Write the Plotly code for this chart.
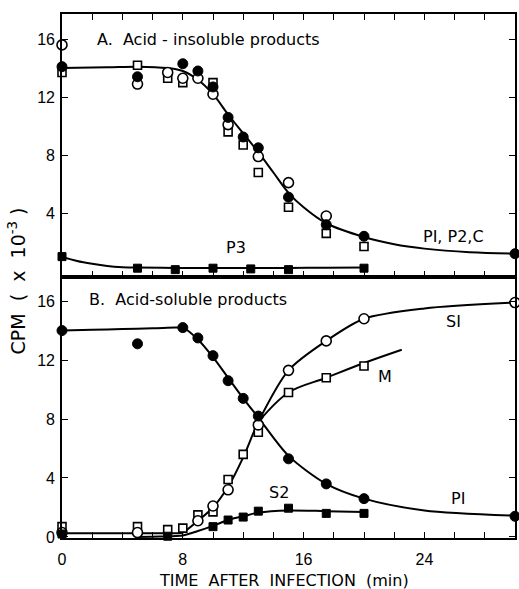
import plotly.graph_objects as go
from plotly.subplots import make_subplots

FONT = "Liberation Sans"
TFONT = "DejaVu Sans"

# ---------------- Panel A: acid-insoluble products ----------------
a_filled_t = [0, 5, 8, 9, 10, 11, 12, 13, 15, 17.5, 20, 30]
a_filled_v = [14.1, 13.4, 14.3, 13.8, 12.7, 10.6, 9.25, 8.5, 5.1, 3.2, 2.4, 1.2]
a_opencirc_t = [0, 5, 7, 8, 9, 10, 11, 13, 15, 17.5]
a_opencirc_v = [15.6, 12.9, 13.7, 13.3, 13.3, 12.2, 10.1, 7.9, 6.1, 3.8]
a_opensq_t = [0, 5, 7, 8, 10, 11, 12, 13, 15, 17.5, 20]
a_opensq_v = [13.7, 14.2, 13.3, 13.0, 13.0, 9.6, 8.7, 6.8, 4.4, 2.6, 1.7]
a_curve_t = [0, 3, 5, 7, 8, 9, 10, 11, 12, 13, 14, 15, 16, 17.5, 20, 22, 24, 27, 30]
a_curve_v = [14.0, 14.05, 14.1, 14.0, 13.8, 13.2, 12.2, 10.8, 9.5, 8.2, 6.8, 5.4, 4.4, 3.3, 2.35, 1.85, 1.55, 1.3, 1.2]
p3_t = [0, 5, 7.5, 10, 12.5, 15, 20]
p3_v = [1.0, 0.2, 0.1, 0.2, 0.15, 0.1, 0.2]
p3_curve_t = [0, 1, 2, 3, 4, 5, 7.5, 10, 12.5, 15, 17.5, 20]
p3_curve_v = [1.0, 0.7, 0.5, 0.35, 0.27, 0.24, 0.22, 0.22, 0.22, 0.22, 0.23, 0.24]

# ---------------- Panel B: acid-soluble products ----------------
p1_t = [0, 5, 8, 9, 10, 11, 12, 13, 15, 17.5, 20, 30]
p1_v = [14.0, 13.1, 14.2, 13.5, 12.3, 10.6, 9.4, 8.2, 5.3, 3.6, 2.6, 1.4]
p1_curve_t = [0, 2, 4, 6, 7.5, 8, 9, 10, 11, 12, 13, 15, 17.5, 20, 24, 30]
p1_curve_v = [14.0, 14.05, 14.1, 14.15, 14.2, 14.2, 13.4, 12.2, 10.8, 9.4, 8.1, 5.5, 3.6, 2.6, 1.8, 1.45]
s1_t = [0, 5, 9, 10, 11, 13, 15, 17.5, 20, 30]
s1_v = [0.3, 0.3, 1.1, 2.1, 3.2, 7.6, 11.3, 13.3, 14.8, 15.9]
s1_curve_t = [0, 2, 4, 6, 7.5, 8, 9, 10, 11, 12, 13, 15, 17.5, 20, 24, 30]
s1_curve_v = [0.25, 0.25, 0.25, 0.25, 0.25, 0.3, 1.1, 2.0, 3.4, 5.4, 7.8, 11.3, 13.3, 14.8, 15.5, 15.9]
m_t = [0, 5, 7, 8, 9, 10, 11, 12, 13, 15, 17.5, 20]
m_v = [0.7, 0.7, 0.5, 0.6, 1.5, 1.7, 3.9, 5.6, 7.1, 9.8, 10.8, 11.6]
m_curve_t = [13, 15, 17.5, 20, 22.5]
m_curve_v = [7.8, 9.8, 10.8, 11.8, 12.7]
s2_t = [0, 7, 10, 11, 12, 13, 15, 17.5, 20]
s2_v = [0.2, 0.05, 0.7, 1.15, 1.35, 1.75, 1.95, 1.6, 1.6]
s2_curve_t = [5, 6.5, 8, 9, 10, 11, 12, 13, 15, 17.5, 20]
s2_curve_v = [0.0, 0.03, 0.1, 0.4, 0.75, 1.15, 1.4, 1.65, 1.8, 1.75, 1.7]

x_major = [0, 8, 16, 24]
y_top_ticks = [4, 8, 12, 16]
y_bottom_ticks = [0, 4, 8, 12, 16]

fig = make_subplots(rows=2, cols=1, shared_xaxes=True, vertical_spacing=0)

LINE = dict(color="black", width=2)


def line(t, v, row, smooth=1.0):
    fig.add_trace(go.Scatter(x=t, y=v, mode="lines", line=dict(LINE, shape="spline", smoothing=smooth),
                             hoverinfo="skip", showlegend=False, cliponaxis=False), row=row, col=1)


def marks(t, v, row, kind):
    if kind == "fc":
        m = dict(symbol="circle", size=10, color="black", line=dict(color="black", width=1))
    elif kind == "oc":
        m = dict(symbol="circle", size=10, color="white", line=dict(color="black", width=1.6))
    elif kind == "os":
        m = dict(symbol="square", size=8, color="white", line=dict(color="black", width=1.6))
    else:
        m = dict(symbol="square", size=8, color="black", line=dict(color="black", width=1))
    fig.add_trace(go.Scatter(x=t, y=v, mode="markers", marker=m, showlegend=False, cliponaxis=False),
                  row=row, col=1)


# Panel A
line(a_curve_t, a_curve_v, 1)
line(p3_curve_t, p3_curve_v, 1)
marks(a_opensq_t, a_opensq_v, 1, "os")
marks(a_opencirc_t, a_opencirc_v, 1, "oc")
marks(a_filled_t, a_filled_v, 1, "fc")
marks(p3_t, p3_v, 1, "fs")

# Panel B
line(p1_curve_t, p1_curve_v, 2, 0.8)
line(s1_curve_t, s1_curve_v, 2, 0.8)
line(m_curve_t, m_curve_v, 2)
line(s2_curve_t, s2_curve_v, 2, 0.8)
marks(m_t, m_v, 2, "os")
marks(s1_t, s1_v, 2, "oc")
marks(p1_t, p1_v, 2, "fc")
marks(s2_t, s2_v, 2, "fs")

axis_common = dict(showline=True, linecolor="black", linewidth=1.6, ticks="inside", ticklen=6,
                   tickwidth=1.3, tickcolor="black", showgrid=False, zeroline=False, automargin=False,
                   tickfont=dict(family=FONT, size=16, color="black"))
x_minor = dict(dtick=2, tick0=0, ticks="inside", ticklen=6, tickwidth=1.3, tickcolor="black",
               showgrid=False)

fig.update_layout(
    width=519, height=589,
    margin=dict(l=62, r=4, t=14, b=51, autoexpand=False),
    paper_bgcolor="white", plot_bgcolor="white",
    font=dict(family=FONT, color="black"),
    xaxis=dict(axis_common, range=[0, 30], tickvals=x_major, minor=x_minor,
               mirror="ticks", showticklabels=False, domain=[0, 1]),
    xaxis2=dict(axis_common, range=[0, 30], tickvals=x_major, minor=x_minor,
                mirror=True, showticklabels=True, domain=[0, 1], ticklabelstandoff=6),
    yaxis=dict(axis_common, range=[-0.41, 17.73], tickvals=y_top_ticks, mirror="ticks",
               domain=[0.498, 1], ticklabelstandoff=2),
    yaxis2=dict(axis_common, range=[-0.07, 17.63], tickvals=y_bottom_ticks, mirror="ticks",
                domain=[0, 0.498], ticklabelstandoff=2),
)

ann_font = dict(family=TFONT, size=16, color="black")
annotations = [
    dict(x=2.2, y=16.0, xref="x", yref="y", text="A.  Acid - insoluble products", xanchor="left"),
    dict(x=11.5, y=1.6, xref="x", yref="y", text="P3"),
    dict(x=25.9, y=2.4, xref="x", yref="y", text="PI, P2,C"),
    dict(x=1.65, y=16.1, xref="x2", yref="y2", text="B.  Acid-soluble products", xanchor="left"),
    dict(x=25.9, y=14.6, xref="x2", yref="y2", text="SI"),
    dict(x=21.4, y=10.9, xref="x2", yref="y2", text="M"),
    dict(x=14.4, y=3.0, xref="x2", yref="y2", text="S2"),
    dict(x=26.2, y=2.6, xref="x2", yref="y2", text="PI"),
]
for a in annotations:
    fig.add_annotation(showarrow=False, font=ann_font, **a)

fig.add_annotation(x=-0.099, y=0.49, xref="paper", yref="paper", showarrow=False,
                   xanchor="center", yanchor="middle",
                   text="CPM  (  x  10<sup>-3</sup> )", textangle=-90,
                   font=dict(family=TFONT, size=19, color="black"))
fig.add_annotation(x=0.49, y=-0.0805, xref="paper", yref="paper", showarrow=False,
                   xanchor="center", yanchor="middle",
                   text="TIME  AFTER  INFECTION  (min)",
                   font=dict(family=TFONT, size=16, color="black"))

fig.write_html("out.html", config={"displayModeBar": False},
               post_script="document.body.style.margin='0';document.body.style.overflow='hidden';")
